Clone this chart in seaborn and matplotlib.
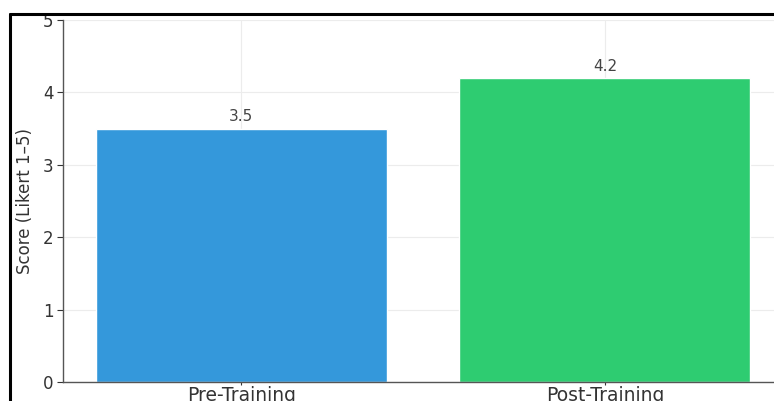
import matplotlib
matplotlib.use("Agg")
import matplotlib.pyplot as plt
import seaborn as sns
import pandas as pd
from matplotlib.lines import Line2D

categories = ["Pre-Training", "Post-Training"]
scores = [3.5, 4.2]
colors = ["#3498db", "#2ecc71"]
y_label = "Score (Likert 1–5)"

sns.set_theme(style="whitegrid")
plt.rcParams['font.family'] = ['DejaVu Sans']

df = pd.DataFrame({"Phase": categories, "Score": scores})

W, H = 774, 401
fig = plt.figure(figsize=(W / 100, H / 100), dpi=100)
left_px, right_px, top_px, bottom_px = 63, 783, 20, 382
ax = fig.add_axes([left_px / W, (H - bottom_px) / H, (right_px - left_px) / W, (bottom_px - top_px) / H])

sns.barplot(data=df, x="Phase", y="Score", hue="Phase", palette=colors, width=0.8,
            saturation=1, legend=False, ax=ax)
ax.set_xlim(-0.49, 1.49)
ax.set_ylim(0, 5)
ax.set_xlabel("")
ax.set_ylabel(y_label, fontsize=12, color="#333333", labelpad=6)
ax.tick_params(axis="y", labelsize=12, colors="#333333", length=4, width=0.8, direction="out", left=True, pad=3)
ax.tick_params(axis="x", labelsize=13.5, colors="#333333", length=2, width=0.8, direction="out", bottom=True, pad=1)
ax.grid(True, color="#ececec", linewidth=0.8)
ax.set_axisbelow(True)
for s in ["top", "right"]:
    ax.spines[s].set_visible(False)
for s in ["left", "bottom"]:
    ax.spines[s].set_visible(True)
    ax.spines[s].set_color("#555555")
    ax.spines[s].set_linewidth(1.0)

for c in ax.containers:
    ax.bar_label(c, fmt="%.1f", padding=3, fontsize=11, color="#444444")

fig.add_artist(Line2D([10 / W, 10 / W], [0, (H - 14) / H], color="black", linewidth=2.2, transform=fig.transFigure))
fig.add_artist(Line2D([10 / W, 1], [(H - 14) / H, (H - 14) / H], color="black", linewidth=2.2, transform=fig.transFigure))

fig.savefig("out.png", dpi=100)
